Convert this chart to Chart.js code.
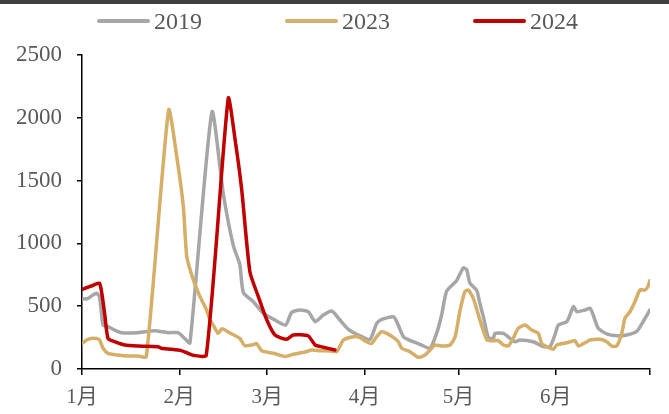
<!DOCTYPE html>
<html>
<head>
<meta charset="utf-8">
<script src="https://cdn.jsdelivr.net/npm/chart.js@4.4.1/dist/chart.umd.min.js"></script>
<style>
  body { margin: 0; background: #fff; }
  #wrap { position: relative; width: 669px; height: 414px; }
  #topbar { position: absolute; left: 0; top: 0; width: 669px; height: 4px; background: #404040; }
  #legend { position: absolute; left: 97px; top: 7px; display: flex; font-family: "Liberation Serif", "Times New Roman", serif; font-size: 24px; color: #595959; }
  .item { width: 188px; display: flex; align-items: center; height: 28px; }
  .swatch { width: 53px; height: 4px; border-radius: 2px; margin-right: 4px; }
</style>
</head>
<body>
<div id="wrap">
  <canvas id="chart" width="669" height="414"></canvas>
  <div id="topbar"></div>
  <div id="legend"></div>
</div>
<script>
// day index counted from 1 Jan (0 = 1月1日)
const monthTicks = [0, 31, 59, 90, 120, 151, 181];
const monthLabels = ["1月", "2月", "3月", "4月", "5月", "6月", ""];

const days2019 = [0, 2, 3.5, 4.6, 5.6, 6.7, 8.3, 10.4, 12.5, 17.8, 23.2, 27.4, 30.6, 32.7, 34.4,
  41.4, 45, 48.2, 50.3, 51.4, 54.6, 57.8, 61.5, 64.9, 66.8, 69.5, 72.1, 74.3, 76.9, 79.6, 82.2,
  84.9, 88.6, 91.8, 93.9, 95.5, 99.2, 100.3, 102.4, 104.5, 107.7, 110.9, 113, 114.6, 116.2, 119.4,
  121.5, 122.6, 123.6, 125.8, 126.8, 127.9, 129.5, 131.1, 131.6, 134.3, 136.4, 138, 139.6, 143.8,
  147, 149.1, 150.7, 151.8, 154.5, 156.6, 157.7, 160.3, 161.9, 162.9, 164.5, 167.2, 170.4, 173.6,
  176.8, 178.9, 181];
const vals2019 = [555, 563, 589, 603, 576, 350, 337, 310, 289, 289, 305, 289, 289, 244, 207,
  2046, 1400, 985, 830, 610, 535, 443, 390, 350, 450, 470, 456, 377, 430, 462, 390,
  316, 265, 236, 364, 395, 416, 377, 257, 228, 197, 165, 284, 430, 620, 705,
  805, 790, 685, 625, 520, 416, 250, 244, 284, 284, 244, 217, 231, 217,
  178, 178, 271, 350, 377, 496, 456, 470, 483, 430, 324, 280, 265, 271,
  300, 380, 470];

const days2023 = [0, 1.9, 4, 5.6, 6.7, 8.3, 11.5, 14.7, 17.8, 20.5, 27.6, 30.2, 32.3, 33.4, 35.5,
  37.6, 39.7, 40.8, 41.8, 43.4, 44.6, 47.2, 50.3, 51.9, 54.8, 55.6, 57.3, 61, 64.7, 67.3, 71.1,
  73.2, 75.8, 79, 81.2, 83.3, 86.5, 88.6, 90.7, 92.3, 93.9, 95.5, 97.1, 99.2, 100.8, 101.9, 104.5,
  107.2, 109.3, 110.9, 112.5, 114.6, 117.3, 118.9, 120.5, 122, 123.1, 124.7, 126.8, 129, 130.6,
  132.7, 134.3, 135.9, 137.4, 139, 141.2, 143.3, 145.4, 146.5, 148.1, 150.2, 151.3, 154.5, 157.1,
  158.2, 160.3, 161.9, 165.1, 167.2, 168.8, 170.4, 172, 173, 174.6, 176.2, 177.8, 179.4, 180.3, 181];
const vals2023 = [204, 236, 244, 231, 165, 125, 111, 103, 103, 98, 2062, 1690, 1292, 894, 708,
  576, 470, 390, 350, 284, 320, 286, 244, 185, 195, 204, 145, 125, 100, 117, 135,
  151, 146, 143, 138, 231, 257, 250, 217, 204, 257, 297, 284, 252, 217, 165, 138,
  93, 111, 151, 191, 183, 191, 257, 470, 615, 629, 563, 390, 231, 225,
  225, 191, 185, 244, 324, 350, 310, 284, 204, 178, 157, 191, 209, 225,
  183, 209, 231, 236, 217, 183, 183, 284, 403, 456, 536, 629, 629, 655, 705];

const days2024 = [0, 3, 5.6, 7.2, 8.3, 10.4, 13.6, 17.8, 24.2, 25.3, 28.5, 31.6, 33.8, 35.4, 39.6,
  46.6, 48.8, 50.9, 53.5, 56.2, 58.9, 61.5, 65.2, 67.3, 72.1, 74.3, 76.9, 80.6];
const vals2024 = [634, 661, 682, 443, 244, 217, 191, 183, 178, 165, 157, 146, 125, 109, 109,
  2155, 1823, 1425, 775, 576, 390, 271, 236, 271, 263, 191, 173, 151];

function toPoints(days, vals) {
  return days.map((d, i) => ({ x: d, y: vals[i] }));
}

const serif = "'Liberation Serif', 'Times New Roman', 'Noto Sans CJK SC', serif";
const textColor = "#595959";

const datasets = [
  { label: "2019", data: toPoints(days2019, vals2019), borderColor: "#A6A6A6", backgroundColor: "#A6A6A6", order: 3 },
  { label: "2023", data: toPoints(days2023, vals2023), borderColor: "#D5AE67", backgroundColor: "#D5AE67", order: 2 },
  { label: "2024", data: toPoints(days2024, vals2024), borderColor: "#C00000", backgroundColor: "#C00000", order: 1 },
];
datasets.forEach(ds => {
  ds.borderWidth = 3.5;
  ds.pointRadius = 0;
  ds.tension = 0.2;
  ds.fill = false;
  ds.borderJoinStyle = "round";
  ds.borderCapStyle = "round";
});

const chart = new Chart(document.getElementById("chart"), {
  type: "line",
  data: { datasets: datasets },
  options: {
    responsive: false,
    animation: false,
    layout: { padding: { left: 0, right: 19, top: 55, bottom: 0 } },
    plugins: { legend: { display: false }, tooltip: { enabled: false } },
    scales: {
      x: {
        type: "linear",
        min: 0,
        max: 181,
        afterBuildTicks: axis => { axis.ticks = monthTicks.map(v => ({ value: v })); },
        afterFit: axis => { axis.height = 45; },
        ticks: {
          autoSkip: false,
          maxRotation: 0,
          padding: 10,
          color: textColor,
          font: { family: serif, size: 21 },
          callback: (value) => monthLabels[monthTicks.indexOf(value)],
        },
        grid: { drawOnChartArea: false, drawTicks: true, tickLength: 6, color: "#000", lineWidth: 1.5 },
        border: { color: "#000", width: 1.5 },
      },
      y: {
        min: 0,
        max: 2500,
        afterFit: axis => { axis.width = 82; },
        ticks: {
          stepSize: 500,
          padding: 15,
          color: textColor,
          font: { family: serif, size: 23 },
          callback: (value) => String(value),
        },
        grid: { drawOnChartArea: false, drawTicks: true, tickLength: 5, color: "#000", lineWidth: 1.5 },
        border: { color: "#000", width: 1.5 },
      },
    },
  },
});

// legend built from the datasets
const legend = document.getElementById("legend");
chart.data.datasets.forEach(ds => {
  const item = document.createElement("div");
  item.className = "item";
  const sw = document.createElement("span");
  sw.className = "swatch";
  sw.style.background = ds.borderColor;
  const tx = document.createElement("span");
  tx.textContent = ds.label;
  item.appendChild(sw);
  item.appendChild(tx);
  legend.appendChild(item);
});
</script>
</body>
</html>
